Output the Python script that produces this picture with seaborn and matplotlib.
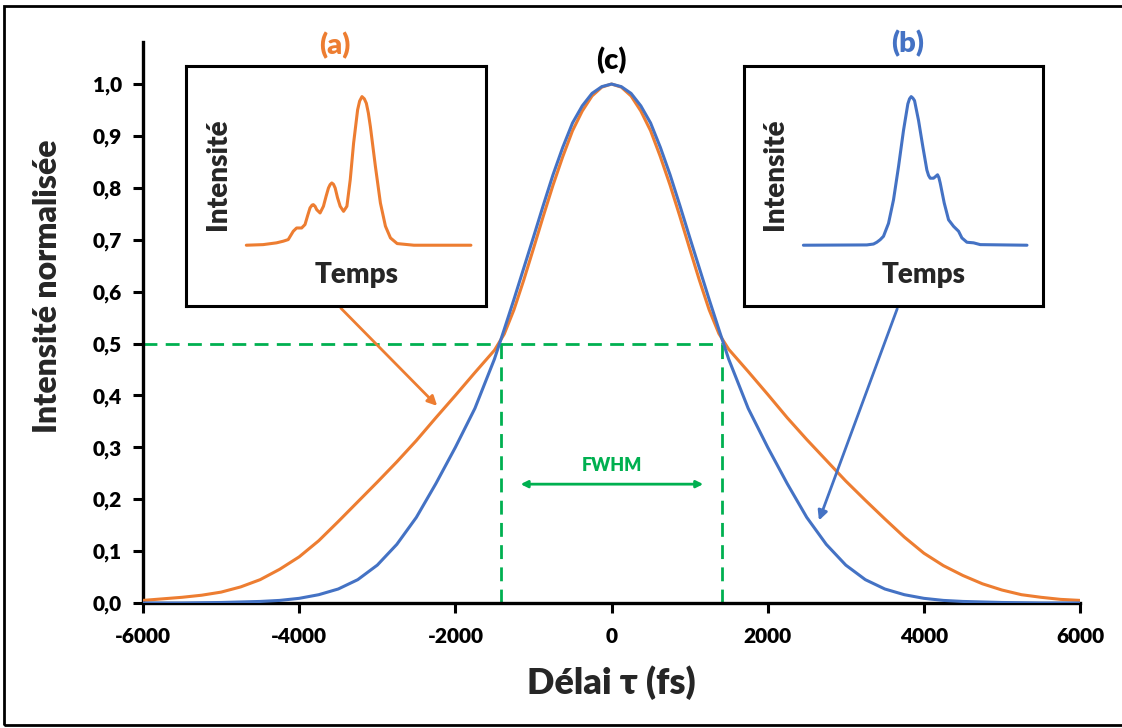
import numpy as np
import pandas as pd
import matplotlib.pyplot as plt
import seaborn as sns
from matplotlib.patches import Rectangle

# Délai (fs) et intensités normalisées
delai = [-6000, -5750, -5500, -5250, -5000, -4750, -4500, -4250, -4000, -3750,
         -3500, -3250, -3000, -2750, -2500, -2250, -2000, -1750, -1500, -1375,
         -1250, -1125, -1000, -875, -750, -625, -500, -375, -250, -125, 0,
         125, 250, 375, 500, 625, 750, 875, 1000, 1125, 1250, 1375, 1500,
         1750, 2000, 2250, 2500, 2750, 3000, 3250, 3500, 3750, 4000, 4250,
         4500, 4750, 5000, 5250, 5500, 5750, 6000]
trace_a = [0.005, 0.008, 0.011, 0.015, 0.021, 0.031, 0.045, 0.065, 0.089, 0.120,
           0.157, 0.195, 0.233, 0.272, 0.313, 0.357, 0.400, 0.444, 0.487, 0.518,
           0.565, 0.622, 0.683, 0.745, 0.805, 0.860, 0.910, 0.948, 0.977, 0.994, 1.000,
           0.994, 0.977, 0.948, 0.910, 0.860, 0.805, 0.745, 0.683, 0.622, 0.565, 0.519, 0.489,
           0.446, 0.402, 0.357, 0.315, 0.275, 0.235, 0.198, 0.162, 0.127, 0.096, 0.072,
           0.053, 0.037, 0.025, 0.016, 0.011, 0.007, 0.005]
trace_b = [0.000, 0.000, 0.000, 0.0005, 0.001, 0.002, 0.003, 0.005, 0.009, 0.016,
           0.027, 0.045, 0.073, 0.113, 0.165, 0.230, 0.300, 0.375, 0.470, 0.527,
           0.585, 0.645, 0.705, 0.766, 0.825, 0.878, 0.925, 0.958, 0.982, 0.995, 1.000,
           0.995, 0.982, 0.958, 0.925, 0.878, 0.825, 0.766, 0.705, 0.645, 0.585, 0.527, 0.470,
           0.375, 0.300, 0.230, 0.165, 0.113, 0.073, 0.045, 0.027, 0.016, 0.009, 0.005,
           0.003, 0.002, 0.001, 0.0005, 0.000, 0.000, 0.000]

# profils temporels des encarts (unités arbitraires)
temps_a = [0, 50, 90, 110, 125, 140, 150, 165, 175, 183, 190, 196, 200, 205, 210, 220, 230, 238,
           245, 250, 255, 260, 265, 272, 280, 290, 300, 310, 320, 332, 338, 345, 352, 358, 364,
           370, 385, 400, 415, 430, 450, 500, 670]
profil_a = [0, .004, .016, .027, .038, .094, .116, .116, .139, .200, .251, .270, .273, .262, .239,
            .217, .262, .330, .385, .408, .419, .410, .385, .320, .262, .228, .262, .441, .687,
            .911, .970, 1.0, .985, .955, .890, .799, .531, .284, .128, .049, .011, 0, 0]
temps_b = [0, 190, 210, 220, 230, 240, 255, 270, 285, 300, 313, 318, 323, 328, 333, 345, 358,
           370, 375, 380, 390, 396, 402, 406, 410, 422, 435, 450, 465, 475, 490, 510, 530, 670]
profil_b = [0, .002, .008, .02, .037, .06, .147, .305, .528, .773, .951, .985, 1.0, .99, .973,
            .84, .662, .506, .470, .451, .451, .462, .474, .455, .418, .284, .171, .127, .094,
            .049, .02, .016, .004, 0]

yticks = [0.0, 0.1, 0.2, 0.3, 0.4, 0.5, 0.6, 0.7, 0.8, 0.9, 1.0]
ytick_labels = ["0,0", "0,1", "0,2", "0,3", "0,4", "0,5", "0,6", "0,7", "0,8", "0,9", "1,0"]
xticks = [-6000, -4000, -2000, 0, 2000, 4000, 6000]
fwhm = 1420

orange = "#ED7D31"
bleu = "#4472C4"
vert = "#00B050"
gras = "heavy"

sns.set_theme(style="ticks")
plt.rcParams["font.family"] = ["Lato", "DejaVu Sans"]
plt.rcParams["font.weight"] = gras

df = pd.DataFrame({"delai": delai * 2,
                   "intensite": trace_a + trace_b,
                   "trace": ["a"] * len(delai) + ["b"] * len(delai)})

fig = plt.figure(figsize=(11.22, 7.28), dpi=100)
ax = fig.add_axes([0.1275, 0.1717, 0.8351, 0.7706])

sns.lineplot(data=df, x="delai", y="intensite", hue="trace",
             palette={"a": orange, "b": bleu}, linewidth=2.2, legend=False, ax=ax, zorder=3)

# FWHM
ax.plot([-6000, fwhm], [0.5, 0.5], color=vert, lw=2, ls=(0, (5, 3)), zorder=2)
ax.plot([-fwhm, -fwhm], [0, 0.5], color=vert, lw=2, ls=(0, (5, 3)), zorder=2)
ax.plot([fwhm, fwhm], [0, 0.5], color=vert, lw=2, ls=(0, (5, 3)), zorder=2)
ax.annotate("", xy=(-1200, 0.229), xytext=(1210, 0.229),
            arrowprops=dict(arrowstyle="<|-|>", color=vert, lw=2, mutation_scale=10))
ax.text(0, 0.265, "FWHM", color=vert, ha="center", va="center", fontsize=13, fontweight=gras)

# flèches vers les courbes
ax.annotate("", xy=(-2208, 0.376), xytext=(-3492, 0.572),
            arrowprops=dict(arrowstyle="-|>", color=orange, lw=2, mutation_scale=14))
ax.annotate("", xy=(2644, 0.154), xytext=(3671, 0.572),
            arrowprops=dict(arrowstyle="-|>", color=bleu, lw=2, mutation_scale=14))

ax.set_xlim(-6000, 6000)
ax.set_ylim(0, 1.081)
ax.set_xticks(xticks)
ax.set_xticklabels([str(v) for v in xticks])
ax.set_yticks(yticks)
ax.set_yticklabels(ytick_labels)
ax.tick_params(axis="both", labelsize=15, width=2.2, length=7, direction="out", colors="black")
ax.tick_params(axis="x", pad=10)
ax.tick_params(axis="y", pad=8)
for lab in ax.get_xticklabels() + ax.get_yticklabels():
    lab.set_fontweight(gras)
for s in ["left", "bottom"]:
    ax.spines[s].set_linewidth(2.4)
    ax.spines[s].set_color("black")
sns.despine(ax=ax)
ax.set_xlabel("Délai τ (fs)", fontsize=26, fontweight=gras, labelpad=14)
ax.set_ylabel("Intensité normalisée", fontsize=23, fontweight=gras)
ax.yaxis.set_label_coords(-0.087, 0.565)

ax.text(-3540, 1.075, "(a)", color=orange, fontsize=21, fontweight=gras, ha="center", va="center")
ax.text(0, 1.045, "(c)", color="black", fontsize=21, fontweight=gras, ha="center", va="center")
ax.text(3790, 1.078, "(b)", color=bleu, fontsize=21, fontweight=gras, ha="center", va="center")

# encarts
W, H = 1122, 728
def encart(x0, y0, x1, y1, t, p, couleur, xlim):
    a = fig.add_axes([x0 / W, 1 - y1 / H, (x1 - x0) / W, (y1 - y0) / H])
    sns.lineplot(x=t, y=p, color=couleur, linewidth=2.2, ax=a)
    a.set_xlim(*xlim)
    a.set_ylim(-0.409, 1.206)
    a.set_xticks([])
    a.set_yticks([])
    a.set_xlabel("")
    a.set_ylabel("")
    for s in a.spines.values():
        s.set_visible(True)
        s.set_linewidth(2.2)
        s.set_color("black")
    a.text(0.105, 0.55, "Intensité", rotation=90, transform=a.transAxes, ha="center",
           va="center", fontsize=20, fontweight=gras)
    return a

ea = encart(186, 66, 486, 306, temps_a, profil_a, orange, (-180, 715))
ea.text(0.57, 0.13, "Temps", transform=ea.transAxes, ha="center", va="center",
        fontsize=20, fontweight=gras)
eb = encart(744, 66, 1043, 306, temps_b, profil_b, bleu, (-178, 718))
eb.text(0.60, 0.13, "Temps", transform=eb.transAxes, ha="center", va="center",
        fontsize=20, fontweight=gras)

fig.patches.append(Rectangle((0.004, 0.004), 1.2, 0.988, transform=fig.transFigure,
                             fill=False, lw=2, ec="black"))

fig.savefig("out.png", dpi=100)
